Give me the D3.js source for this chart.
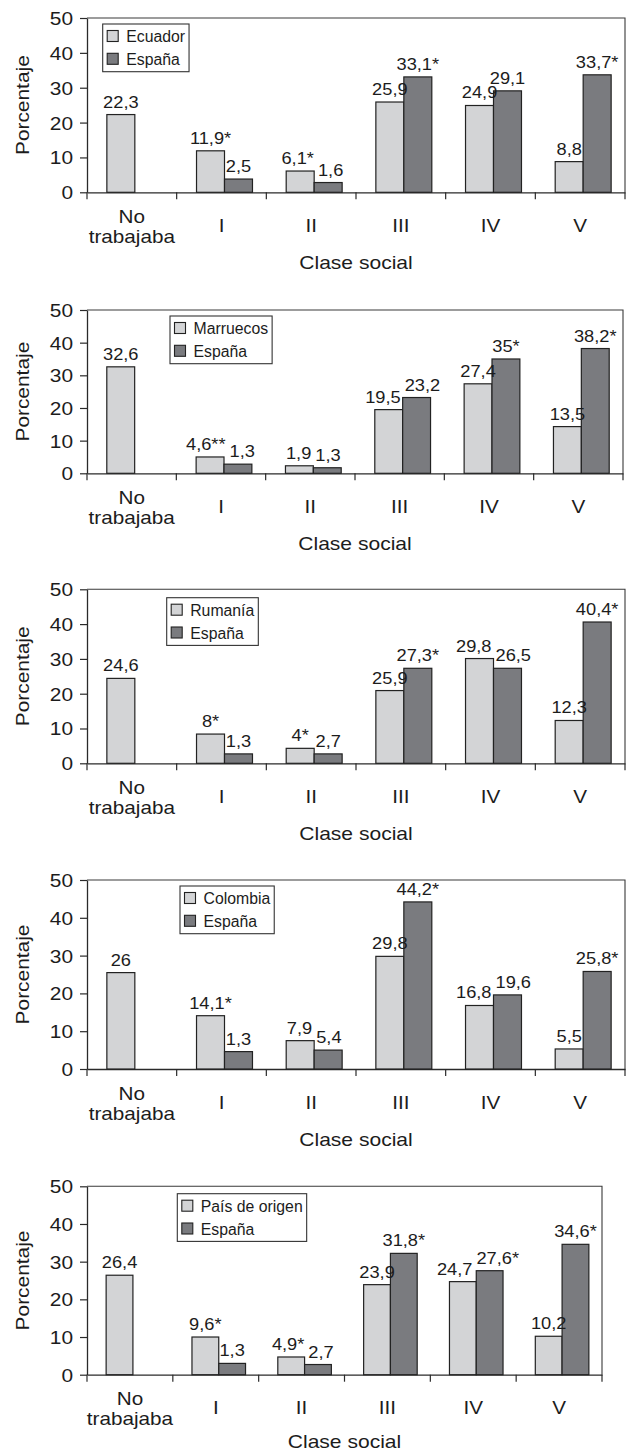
<!DOCTYPE html>
<html><head><meta charset="utf-8">
<script src="https://cdn.jsdelivr.net/npm/d3@7"></script>
<style>body{margin:0;background:#fff} svg{display:block}</style>
</head><body><svg id="c" width="627" height="1453"></svg>
<script>
// ---------- data ----------
const categories = ["No trabajaba","I","II","III","IV","V"];
const categoryLines = [["No","trabajaba"],["I"],["II"],["III"],["IV"],["V"]];
const yTicks = [0,10,20,30,40,50];
const originNames = ["Ecuador","Marruecos","Rumanía","Colombia","País de origen"];
const spainName = "España";
const originValues = [
  [22.3, 11.9, 6.1, 25.9, 24.9, 8.8],
  [32.6, 5.0, 2.3, 19.5, 27.4, 14.3],
  [24.4, 8.4, 4.3, 20.9, 30.1, 12.3],
  [25.5, 14.1, 7.5, 29.8, 16.8, 5.3],
  [26.4, 10.0, 4.7, 23.9, 24.7, 10.2]
];
const spainValues = [
  [null, 3.8, 2.8, 33.1, 29.1, 33.7],
  [null, 2.8, 1.7, 23.2, 35.0, 38.2],
  [null, 2.7, 2.7, 27.3, 27.3, 40.6],
  [null, 4.6, 5.0, 44.2, 19.6, 25.8],
  [null, 3.0, 2.7, 32.2, 27.6, 34.6]
];
const originLabels = [
  ["22,3","11,9*","6,1*","25,9","24,9","8,8"],
  ["32,6","4,6**","1,9","19,5","27,4","13,5"],
  ["24,6","8*","4*","25,9","29,8","12,3"],
  ["26","14,1*","7,9","29,8","16,8","5,5"],
  ["26,4","9,6*","4,9*","23,9","24,7","10,2"]
];
const spainLabels = [
  [null,"2,5","1,6","33,1*","29,1","33,7*"],
  [null,"1,3","1,3","23,2","35*","38,2*"],
  [null,"1,3","2,7","27,3*","26,5","40,4*"],
  [null,"1,3","5,4","44,2*","19,6","25,8*"],
  [null,"1,3","2,7","31,8*","27,6*","34,6*"]
];
const yTitle = "Porcentaje";
const xTitle = "Clase social";

// ---------- layout / style ----------
const layout = [
  {left:87, right:625, top:18,    zero:192.3,  lx:102.7, ly:24},
  {left:87, right:623, top:310,   zero:473.3,  lx:170,   ly:316},
  {left:87, right:625, top:589.3, zero:763.3,  lx:166.7, ly:597.7},
  {left:87, right:625, top:880,   zero:1069,   lx:180,   ly:886},
  {left:87, right:602, top:1186.3,zero:1374.7, lx:177.3, ly:1193.7}
];
const FONT = "'Liberation Sans', Arial, Helvetica, sans-serif";
const TXT = "#1c1c1c";
const LIGHT = "#d3d4d6", DARK = "#7a7b7f", EDGE = "#222";
const AX = "#2a2a2a";
const H = 1453;

const svg = d3.select("#c");

function stretchText(g, x, y, str, size, sx, anchor, extra) {
  return g.append("text")
    .attr("transform", `translate(${x},${y})${extra||""} scale(${sx},1)`)
    .attr("text-anchor", anchor || "middle")
    .attr("font-family", FONT).attr("font-size", size).attr("fill", TXT)
    .text(str);
}

layout.forEach((L, p) => {
  const g = svg.append("g");
  const x = d3.scaleBand().domain(categories).range([L.left, L.right]).paddingInner(0).paddingOuter(0);
  const y = d3.scaleLinear().domain([0, 50]).range([L.zero, L.top]);
  const band = x.bandwidth();
  const bw = band * 0.312;
  const shift = 3;
  const lightX = c => x(c) + band/2 - bw + shift;
  const darkX = c => x(c) + band/2 + shift;

  // frame (top + right)
  g.append("path")
    .attr("d", `M${L.left},${y(50)}H${L.right}V${y(0)}`)
    .attr("fill", "none").attr("stroke", "#3a3a3a").attr("stroke-width", 1.1);

  // y axis
  const ya = g.append("g").attr("transform", `translate(${L.left},0)`)
    .call(d3.axisLeft(y).tickValues(yTicks).tickSize(7).tickSizeOuter(0));
  ya.select(".domain").attr("stroke", AX).attr("stroke-width", 1.3);
  ya.selectAll(".tick line").attr("stroke", AX).attr("stroke-width", 1.2);
  ya.selectAll(".tick text")
    .attr("font-family", FONT).attr("font-size", 18.5).attr("fill", TXT)
    .attr("transform", "scale(1.13,1)").attr("x", -14/1.13).attr("dy", "0.35em");

  // x axis domain line
  const xa = g.append("g").attr("transform", `translate(0,${L.zero})`)
    .call(d3.axisBottom(x).tickSize(0).tickSizeOuter(0).tickFormat(""));
  xa.select(".domain").attr("stroke", AX).attr("stroke-width", 1.3);
  xa.selectAll(".tick").remove();
  // boundary ticks
  const bounds = categories.map(c => x(c)).concat([x.range()[1]]);
  g.selectAll("line.bt").data(bounds).join("line").attr("class","bt")
    .attr("x1", d => d).attr("x2", d => d)
    .attr("y1", L.zero).attr("y2", L.zero + 7)
    .attr("stroke", AX).attr("stroke-width", 1.2);

  // category labels
  categories.forEach((c, i) => {
    const lines = categoryLines[i];
    const cx = x(c) + band/2;
    if (lines.length === 2) {
      stretchText(g, cx, L.zero + 30.5, lines[0], 17.7, 1.17);
      stretchText(g, cx, L.zero + 50.5, lines[1], 17.7, 1.17);
    } else {
      stretchText(g, cx, L.zero + 39.5, lines[0], 17.7, 1.17);
    }
  });

  // titles
  stretchText(g, (L.left + L.right)/2, Math.min(L.zero + 77, H - 5), xTitle, 18, 1.17);
  stretchText(g, 28.5, (L.top + L.zero)/2, yTitle, 18, 1.16, "middle", " rotate(-90)");

  // bars
  const ov = originValues[p], sv = spainValues[p];
  g.selectAll("rect.o").data(categories).join("rect").attr("class","o")
    .attr("x", c => lightX(c)).attr("width", bw)
    .attr("y", (c,i) => y(ov[i])).attr("height", (c,i) => y(0) - y(ov[i]))
    .attr("fill", LIGHT).attr("stroke", EDGE).attr("stroke-width", 1.2);
  g.selectAll("rect.s").data(categories.filter((c,i) => sv[i] != null)).join("rect").attr("class","s")
    .attr("x", c => darkX(c)).attr("width", bw)
    .attr("y", c => y(sv[categories.indexOf(c)]))
    .attr("height", c => y(0) - y(sv[categories.indexOf(c)]))
    .attr("fill", DARK).attr("stroke", EDGE).attr("stroke-width", 1.2);

  // value labels with simple collision avoidance
  const VS = 16.3, VX = 1.12, GAP = 4;
  categories.forEach((c, i) => {
    const items = [];
    if (ov[i] != null) items.push({cx: lightX(c) + bw/2, by: y(ov[i]) - 7, t: originLabels[p][i]});
    if (sv[i] != null) items.push({cx: darkX(c) + bw/2, by: y(sv[i]) - 7, t: spainLabels[p][i]});
    items.forEach(it => {
      it.node = stretchText(g, it.cx, it.by, it.t, VS, VX);
      it.w = it.node.node().getComputedTextLength() * VX;
    });
    if (items.length === 2) {
      const [a, b] = items;
      const vOverlap = (a.by - 13 < b.by + 1) && (b.by - 13 < a.by + 1);
      const over = (a.cx + a.w/2 + GAP) - (b.cx - b.w/2);
      if (vOverlap && over > 0) {
        a.cx -= over/2; b.cx += over/2;
        a.node.attr("transform", `translate(${a.cx},${a.by}) scale(${VX},1)`);
        b.node.attr("transform", `translate(${b.cx},${b.by}) scale(${VX},1)`);
      }
    }
  });

  // legend
  const lg = g.append("g").attr("transform", `translate(${L.lx},${L.ly})`);
  const names = [originNames[p], spainName];
  const fills = [LIGHT, DARK];
  const box = lg.append("rect").attr("fill", "#fff").attr("stroke", "#333").attr("stroke-width", 1.1);
  let maxW = 0;
  names.forEach((n, k) => {
    lg.append("rect").attr("x", 4.5).attr("y", 6.5 + k*22.8).attr("width", 11).attr("height", 11)
      .attr("fill", fills[k]).attr("stroke", EDGE).attr("stroke-width", 1.1);
    const t = lg.append("text").attr("x", 23.5).attr("y", 18.3 + k*22.8)
      .attr("font-family", FONT).attr("font-size", 15.8).attr("fill", TXT).text(n);
    maxW = Math.max(maxW, t.node().getComputedTextLength());
  });
  box.attr("x", 0).attr("y", 0).attr("width", maxW + 27.5).attr("height", 47.7);
});
</script>
</body></html>
